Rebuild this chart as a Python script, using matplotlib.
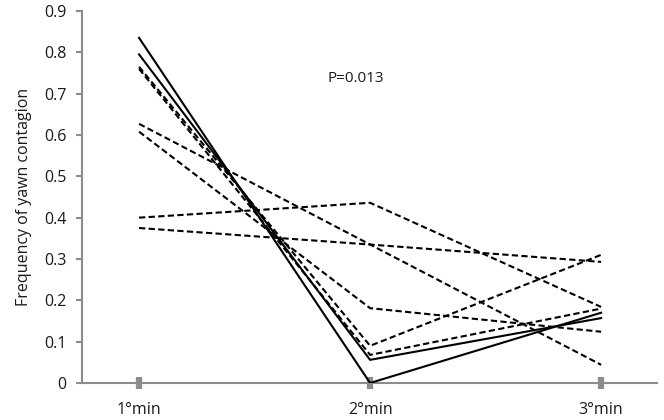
import matplotlib

matplotlib.use("Agg")
import matplotlib.pyplot as plt

plt.rcParams["font.family"] = ["Open Sans", "DejaVu Sans"]

categories = ["1°min", "2°min", "3°min"]
solid_series = [
    [0.835, 0.0, 0.17],
    [0.795, 0.056, 0.157],
]
dashed_series = [
    [0.765, 0.09, 0.31],
    [0.76, 0.068, 0.18],
    [0.627, 0.335, 0.044],
    [0.608, 0.181, 0.124],
    [0.40, 0.436, 0.184],
    [0.375, 0.335, 0.293],
]
y_ticks = [0, 0.1, 0.2, 0.3, 0.4, 0.5, 0.6, 0.7, 0.8, 0.9]
y_tick_labels = ["0", "0.1", "0.2", "0.3", "0.4", "0.5", "0.6", "0.7", "0.8", "0.9"]
p_text = "P=0.013"

axis_grey = "#8c8c8c"
x = [1, 2, 3]

fig = plt.figure(figsize=(6.64, 4.20), dpi=100, facecolor="white")
ax = fig.add_axes([0.1235, 0.0881, 0.866, 0.8857])

for vals in dashed_series:
    ax.plot(x, vals, color="black", lw=1.5, linestyle=(0, (3, 1.6)), zorder=3)
for vals in solid_series:
    ax.plot(x, vals, color="black", lw=1.5, linestyle="-", zorder=4)

ax.set_xlim(0.753, 3.242)
ax.set_ylim(0, 0.9)
ax.set_xticks(x)
ax.set_xticklabels(categories)
ax.set_yticks(y_ticks)
ax.set_yticklabels(y_tick_labels)

for side in ("top", "right"):
    ax.spines[side].set_visible(False)
for side in ("left", "bottom"):
    ax.spines[side].set_color(axis_grey)
    ax.spines[side].set_linewidth(1.5)
ax.spines["bottom"].set_zorder(2)

ax.tick_params(axis="y", direction="out", length=4, width=1.5, color=axis_grey,
               labelsize=11.5, pad=7, labelcolor="#1a1a1a")
ax.tick_params(axis="x", direction="inout", length=9, width=4.5, color=axis_grey,
               labelsize=11.5, pad=9, labelcolor="#1a1a1a")

ax.set_ylabel("Frequency of yawn contagion", fontsize=11.5, color="#1a1a1a", labelpad=9)
ax.text(1.94, 0.737, p_text, ha="center", va="center", fontsize=11, color="#1a1a1a")

fig.savefig("out.png", dpi=100, facecolor="white")
